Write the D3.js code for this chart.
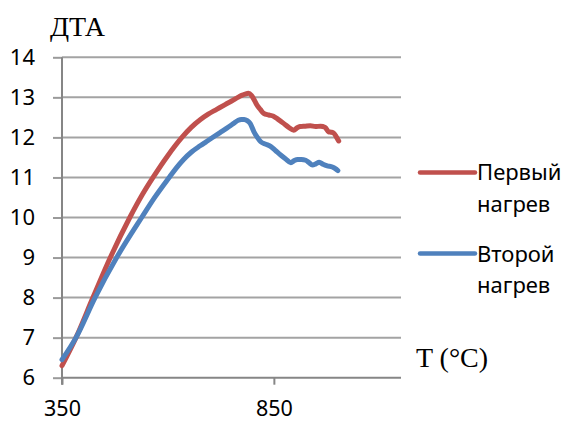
<!DOCTYPE html>
<html>
<head>
<meta charset="utf-8">
<script src="https://cdn.jsdelivr.net/npm/d3@7"></script>
<style>
  html, body { margin: 0; padding: 0; background: #fff; }
  svg { display: block; }
</style>
</head>
<body>
<svg id="chart" width="568" height="421"></svg>
<script>
// Heating curves: temperature (°C) against the DTA signal
const firstHeatT = [350, 383, 423, 464, 510, 540, 566, 600, 633, 655, 676, 695, 715, 735, 754, 765, 774, 782, 790, 797, 804, 810, 818, 826, 838, 849, 860, 873, 885, 897, 905, 912, 924, 936, 948, 960, 971, 979, 985, 991, 997, 1003];
const firstHeatV = [6.3, 7.0, 8.0, 9.0, 10.0, 10.58, 11.02, 11.55, 12.0, 12.25, 12.44, 12.58, 12.7, 12.82, 12.93, 13.0, 13.05, 13.08, 13.1, 13.05, 12.93, 12.81, 12.7, 12.6, 12.56, 12.53, 12.45, 12.35, 12.25, 12.18, 12.24, 12.27, 12.28, 12.29, 12.27, 12.28, 12.25, 12.14, 12.13, 12.11, 12.02, 11.91];

const secondHeatT = [350, 383, 428, 479, 538, 570, 603, 620, 637, 655, 676, 690, 707, 723, 739, 755, 766, 773, 780, 787, 794, 803, 811, 819, 831, 843, 855, 866, 878, 890, 898, 906, 915, 925, 933, 941, 949, 957, 966, 976, 988, 995, 1001];
const secondHeatV = [6.45, 7.0, 8.0, 9.0, 10.0, 10.52, 11.0, 11.24, 11.45, 11.63, 11.79, 11.89, 12.01, 12.12, 12.23, 12.35, 12.43, 12.45, 12.45, 12.42, 12.35, 12.14, 12.0, 11.89, 11.83, 11.77, 11.66, 11.56, 11.46, 11.37, 11.42, 11.45, 11.45, 11.43, 11.37, 11.31, 11.34, 11.38, 11.33, 11.29, 11.26, 11.22, 11.17];

const seriesNames = ["Первый нагрев", "Второй нагрев"];
const seriesColors = ["#C0504D", "#4F81BD"];

const xTicks = [350, 850];
const yTicks = [6, 7, 8, 9, 10, 11, 12, 13, 14];

const yTitle = "ДТА";
const xTitle = "T (°C)";

const svg = d3.select("#chart");

const x = d3.scaleLinear().domain([350, 1150]).range([62, 401]);
const y = d3.scaleLinear().domain([6, 14]).range([377.7, 57.3]);

const labelFont = "'Noto Sans', 'Open Sans', sans-serif";
const serifFont = "'Liberation Serif', 'Times New Roman', serif";

// horizontal gridlines
svg.append("g")
  .selectAll("line")
  .data(yTicks.filter(d => d !== 6))
  .join("line")
  .attr("x1", x.range()[0])
  .attr("x2", x.range()[1])
  .attr("y1", d => y(d))
  .attr("y2", d => y(d))
  .attr("stroke", "#a3a3a3")
  .attr("stroke-width", 2);

// y axis
const yAxis = svg.append("g")
  .attr("transform", `translate(${x.range()[0]},0)`)
  .call(d3.axisLeft(y).tickValues(yTicks).tickSize(9).tickPadding(18).tickFormat(d3.format("d")));
yAxis.select(".domain").remove();
yAxis.selectAll(".tick line").attr("stroke", "#9a9a9a").attr("stroke-width", 2);
yAxis.selectAll("text")
  .attr("font-family", labelFont)
  .attr("font-size", 22)
  .attr("fill", "#000");

// x axis
const xAxis = svg.append("g")
  .attr("transform", `translate(0,${y(6)})`)
  .call(d3.axisBottom(x).tickValues(xTicks).tickSize(7).tickPadding(16).tickFormat(d3.format("d")));
xAxis.select(".domain").remove();
xAxis.selectAll(".tick line").attr("stroke", "#868686").attr("stroke-width", 2);
xAxis.selectAll("text")
  .attr("font-family", labelFont)
  .attr("font-size", 21.5)
  .attr("fill", "#000");

// axis lines
svg.append("line")
  .attr("x1", x.range()[0]).attr("x2", x.range()[1])
  .attr("y1", y(6)).attr("y2", y(6))
  .attr("stroke", "#868686").attr("stroke-width", 2);
svg.append("line")
  .attr("x1", x.range()[0]).attr("x2", x.range()[0])
  .attr("y1", y(14)).attr("y2", y(6) + 7)
  .attr("stroke", "#868686").attr("stroke-width", 2);

// curves
const line = d3.line()
  .x(d => x(d[0]))
  .y(d => y(d[1]))
  .curve(d3.curveMonotoneX);

const series = [
  d3.zip(firstHeatT, firstHeatV),
  d3.zip(secondHeatT, secondHeatV)
];

svg.append("g")
  .selectAll("path")
  .data(series)
  .join("path")
  .attr("d", line)
  .attr("fill", "none")
  .attr("stroke", (d, i) => seriesColors[i])
  .attr("stroke-width", 5)
  .attr("stroke-linejoin", "round")
  .attr("stroke-linecap", "round");

// legend
const legendRows = [
  { lineY: 172.5, lines: [[180, "Первый"], [212, "нагрев"]] },
  { lineY: 253.5, lines: [[261.5, "Второй"], [293, "нагрев"]] }
];
legendRows.forEach((row, i) => {
  const words = seriesNames[i].split(" ");
  svg.append("line")
    .attr("x1", 420).attr("x2", 475)
    .attr("y1", row.lineY).attr("y2", row.lineY)
    .attr("stroke", seriesColors[i])
    .attr("stroke-width", 4.5)
    .attr("stroke-linecap", "round");
  row.lines.forEach((l, j) => {
    svg.append("text")
      .attr("x", 477)
      .attr("y", l[0])
      .attr("font-family", labelFont)
      .attr("font-size", 22)
      .attr("fill", "#000")
      .text(words[j]);
  });
});

// axis titles
svg.append("text")
  .attr("x", 50).attr("y", 36)
  .attr("font-family", serifFont)
  .attr("font-size", 28)
  .attr("fill", "#000")
  .text(yTitle);

svg.append("text")
  .attr("x", 416).attr("y", 367)
  .attr("font-family", serifFont)
  .attr("font-size", 28)
  .attr("fill", "#000")
  .text(xTitle);
</script>
</body>
</html>
